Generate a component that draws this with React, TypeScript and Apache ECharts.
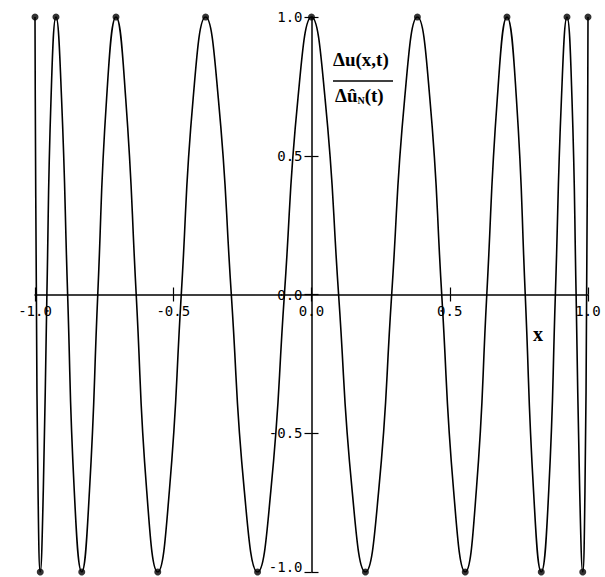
import React, { useEffect, useRef } from "react";
import * as echarts from "echarts";

// Sampled points of the oscillating profile (extrema, mid-levels, zero crossings)
const curveX = [
  -1.0, -0.999, -0.995, -0.989, -0.981, -0.97, -0.957, -0.942,
  -0.924, -0.904, -0.882, -0.858, -0.831, -0.803, -0.773, -0.741,
  -0.707, -0.672, -0.634, -0.596, -0.556, -0.514, -0.471, -0.428,
  -0.383, -0.337, -0.29, -0.243, -0.195, -0.147, -0.098, -0.049,
  0.0, 0.049, 0.098, 0.147, 0.195, 0.243, 0.29, 0.337,
  0.383, 0.428, 0.471, 0.514, 0.556, 0.596, 0.634, 0.672,
  0.707, 0.741, 0.773, 0.803, 0.831, 0.858, 0.882, 0.904,
  0.924, 0.942, 0.957, 0.97, 0.981, 0.989, 0.995, 0.999, 1.0,
];
const curveY = [
  1, 0.707, 0, -0.707, -1, -0.707, 0, 0.707,
  1, 0.707, 0, -0.707, -1, -0.707, 0, 0.707,
  1, 0.707, 0, -0.707, -1, -0.707, 0, 0.707,
  1, 0.707, 0, -0.707, -1, -0.707, 0, 0.707,
  1, 0.707, 0, -0.707, -1, -0.707, 0, 0.707,
  1, 0.707, 0, -0.707, -1, -0.707, 0, 0.707,
  1, 0.707, 0, -0.707, -1, -0.707, 0, 0.707,
  1, 0.707, 0, -0.707, -1, -0.707, 0, 0.707,
  1,
];

// Collocation nodes marked with dots
const nodeX = [
  -1.0, -0.981, -0.924, -0.831, -0.707, -0.556, -0.383, -0.195, 0.0,
  0.195, 0.383, 0.556, 0.707, 0.831, 0.924, 0.981, 1.0,
];
const nodeY = [1, -1, 1, -1, 1, -1, 1, -1, 1, -1, 1, -1, 1, -1, 1, -1, 1];

const xTicks = ["-1.0", "-0.5", "0.0", "0.5", "1.0"];
const yTicks = ["-1.0", "-0.5", "0.0", "0.5", "1.0"];

const tickFont = {
  fontFamily: "DejaVu Sans Mono",
  fontSize: 14,
  color: "#000",
};

const GRID_W = 553;
const GRID_H = 555;

export default function App() {
  const ref = useRef<HTMLDivElement>(null);

  useEffect(() => {
    if (!ref.current) return;
    const chart = echarts.init(ref.current, null, { renderer: "svg" });

    const curve = curveX.map((x, i) => [x, curveY[i]]);
    const nodes = nodeX.map((x, i) => [x, nodeY[i]]);

    const fmtX = (v: number) => {
      const s = v.toFixed(1);
      return xTicks.includes(s) ? s : "";
    };
    const fmtY = (v: number) => {
      const s = v.toFixed(1);
      if (!yTicks.includes(s)) return "";
      // lowest label is lifted a little so it stays inside the canvas
      return v <= -1 ? `{lo|${s}}` : s;
    };

    const tickLine = { color: "#000", width: 1.2 };

    // Axes sit on the grid edge and are shifted to the centre (the zero lines)
    const baseX = {
      type: "value" as const,
      min: -1,
      max: 1,
      interval: 0.5,
      position: "bottom" as const,
      offset: -GRID_H / 2,
      splitLine: { show: false },
    };
    const baseY = {
      type: "value" as const,
      min: -1,
      max: 1,
      interval: 0.5,
      position: "left" as const,
      offset: -GRID_W / 2,
      splitLine: { show: false },
    };

    chart.setOption({
      animation: false,
      backgroundColor: "#fff",
      grid: {
        left: 35,
        top: 17,
        width: GRID_W,
        height: GRID_H,
        containLabel: false,
        outerBoundsMode: "none",
      },
      xAxis: [
        {
          ...baseX,
          axisLine: { onZero: false, lineStyle: { color: "#000", width: 1.5 } },
          axisTick: { show: true, length: 7, lineStyle: tickLine },
          axisLabel: { ...tickFont, margin: 9, formatter: fmtX, showMinLabel: true, showMaxLabel: true },
        },
        {
          ...baseX,
          axisLine: { show: false, onZero: false },
          axisTick: { show: true, inside: true, length: 7, lineStyle: tickLine },
          axisLabel: { show: false },
        },
      ],
      yAxis: [
        {
          ...baseY,
          axisLine: { onZero: false, lineStyle: { color: "#000", width: 1.5 } },
          axisTick: { show: true, length: 7, lineStyle: tickLine },
          axisLabel: {
            ...tickFont,
            margin: 9,
            formatter: fmtY,
            showMinLabel: true,
            showMaxLabel: true,
            rich: {
              lo: { ...tickFont, padding: [0, 0, 10, 0] },
            },
          },
        },
        {
          ...baseY,
          axisLine: { show: false, onZero: false },
          axisTick: { show: true, inside: true, length: 7, lineStyle: tickLine },
          axisLabel: { show: false },
        },
      ],
      series: [
        {
          type: "line",
          xAxisIndex: 0,
          yAxisIndex: 0,
          data: curve,
          smooth: 0.5,
          showSymbol: false,
          lineStyle: { color: "#000", width: 1.6 },
          z: 3,
        },
        {
          type: "scatter",
          xAxisIndex: 0,
          yAxisIndex: 0,
          data: nodes,
          symbol: "circle",
          symbolSize: 7,
          itemStyle: { color: "#000" },
          z: 4,
        },
      ],
      graphic: [
        {
          type: "text",
          left: 333,
          top: 50,
          style: {
            text: "Δu(x,t)",
            font: "bold 19px 'Liberation Serif', 'DejaVu Serif', serif",
            fill: "#000",
          },
          z: 10,
        },
        {
          type: "line",
          shape: { x1: 333, y1: 81, x2: 393, y2: 81 },
          style: { stroke: "#000", lineWidth: 1.5 },
          z: 10,
        },
        {
          type: "text",
          left: 335,
          top: 86,
          style: {
            text: "Δû{sub|N}(t)",
            font: "bold 19px 'Liberation Serif', 'DejaVu Serif', serif",
            fill: "#000",
            rich: {
              sub: {
                font: "bold 10px 'Liberation Serif', 'DejaVu Serif', serif",
                fill: "#000",
                verticalAlign: "bottom",
                padding: [8, 0, 0, 0],
              },
            },
          },
          z: 10,
        },
        {
          type: "text",
          left: 533,
          top: 324,
          style: {
            text: "x",
            font: "bold 20px 'Liberation Serif', 'DejaVu Serif', serif",
            fill: "#000",
          },
          z: 10,
        },
      ],
    });

    return () => chart.dispose();
  }, []);

  return (
    <div
      ref={ref}
      style={{ position: "fixed", left: 0, top: 0, width: 605, height: 577 }}
    />
  );
}
